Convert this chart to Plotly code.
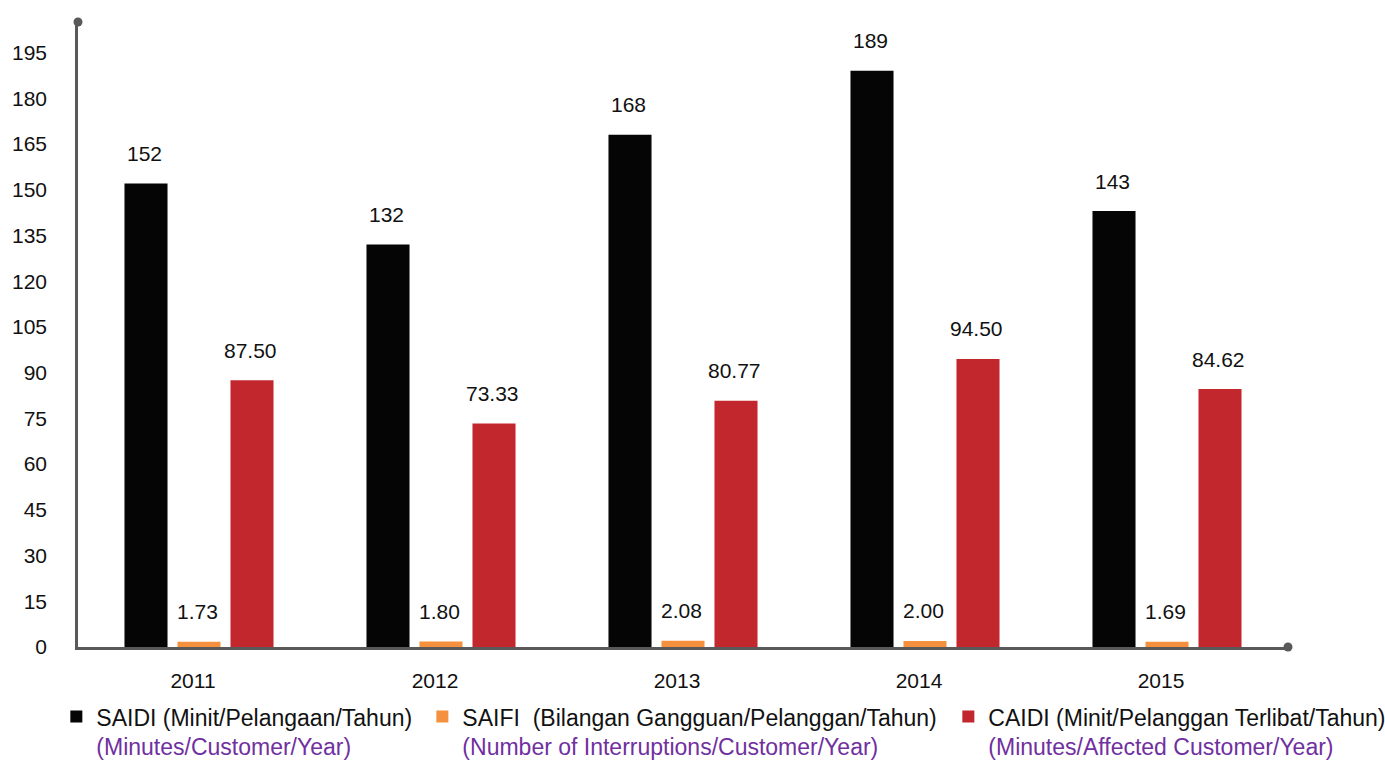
import plotly.graph_objects as go

years = ["2011", "2012", "2013", "2014", "2015"]
saidi = [152, 132, 168, 189, 143]
saifi = [1.73, 1.80, 2.08, 2.00, 1.69]
caidi = [87.50, 73.33, 80.77, 94.50, 84.62]
y_ticks = [0, 15, 30, 45, 60, 75, 90, 105, 120, 135, 150, 165, 180, 195]

PURPLE = "#7030A0"
FONT = "Liberation Sans, Arial, sans-serif"

series = [
    ("SAIDI (Minit/Pelangaan/Tahun)", "(Minutes/Customer/Year)", saidi, "#050505", "{:.0f}", "legend"),
    ("SAIFI\u00a0\u00a0(Bilangan Gangguan/Pelanggan/Tahun)", "(Number of Interruptions/Customer/Year)", saifi, "#F5913E", "{:.2f}", "legend2"),
    ("CAIDI (Minit/Pelanggan Terlibat/Tahun)", "(Minutes/Affected Customer/Year)", caidi, "#C1272D", "{:.2f}", "legend3"),
]

fig = go.Figure()
for name, sub, vals, color, fmt, leg in series:
    fig.add_trace(go.Bar(
        x=years, y=vals,
        name=f"{name}<br><span style='color:{PURPLE}'>{sub}</span>",
        marker=dict(color=color, line=dict(width=0)),
        legend=leg,
    ))

# data labels (x given as category index on the category axis)
shifts = [-53, 0, 53]
for (name, sub, vals, color, fmt, leg), xs in zip(series, shifts):
    for i, v in enumerate(vals):
        fig.add_annotation(x=i, y=v, text=fmt.format(v), showarrow=False,
                           xshift=xs - 2, yshift=30, yanchor="middle",
                           font=dict(size=21, color="#111111", family=FONT))

AXIS = "#595959"
# axis end dots
for (px, py) in [(0, 1), (1, 0)]:
    fig.add_shape(type="circle", xref="paper", yref="paper",
                  xsizemode="pixel", ysizemode="pixel",
                  xanchor=px, yanchor=py, x0=-4.5, x1=4.5, y0=-4.5, y1=4.5,
                  fillcolor=AXIS, line=dict(width=0), layer="above")

leg_common = dict(orientation="h", xanchor="left", yanchor="top", y=-0.077,
                  valign="top", font=dict(size=23, color="#111111", family=FONT),
                  itemclick=False, bgcolor="rgba(0,0,0,0)", borderwidth=0)

fig.update_layout(
    width=1385, height=763,
    margin=dict(l=78, r=97, t=22, b=116, autoexpand=False),
    paper_bgcolor="white", plot_bgcolor="white",
    barmode="group", bargap=0.343, bargroupgap=0.188,
    font=dict(family=FONT, size=21, color="#111111"),
    showlegend=True,
    legend=dict(x=-0.0179, **leg_common),
    legend2=dict(x=0.2846, **leg_common),
    legend3=dict(x=0.7193, **leg_common),
    xaxis=dict(type="category", range=[-0.5, 4.5], showline=True, linecolor=AXIS,
               linewidth=2.5, showgrid=False, ticks="", ticklabelstandoff=13,
               ticklabelshift=-6, tickfont=dict(size=21), zeroline=False,
               fixedrange=True),
    yaxis=dict(range=[0, 205], showline=True, linecolor=AXIS, linewidth=2.5,
               showgrid=False, zeroline=False, tickmode="array", tickvals=y_ticks,
               ticktext=[str(t) for t in y_ticks], ticks="", ticklabelstandoff=24,
               tickfont=dict(size=21), fixedrange=True),
)

fig.write_html("out.html", config={"displayModeBar": False},
               post_script="document.body.style.margin='0';document.body.style.overflow='hidden';")
